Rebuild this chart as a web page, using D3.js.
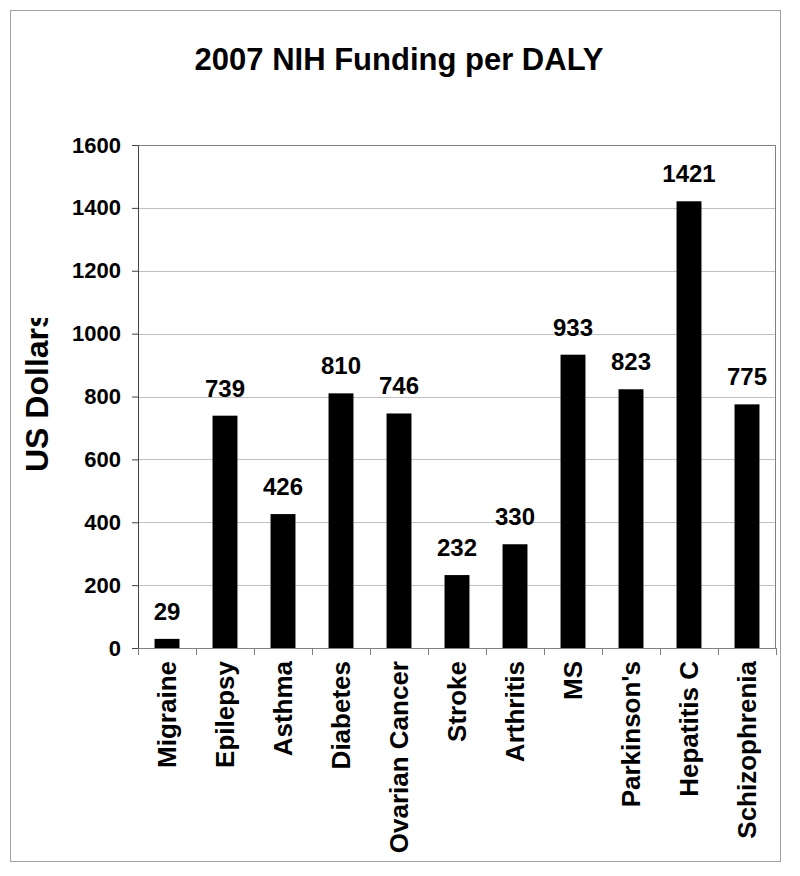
<!DOCTYPE html>
<html lang="en">
<head>
    <meta charset="UTF-8">
    <title>2007 NIH Funding per DALY</title>
    <script src="https://cdn.jsdelivr.net/npm/d3@7"></script>
    <style>
        body { margin: 0; background: #fff; }
        text { font-family: "Liberation Sans", Arial, sans-serif; font-weight: bold; }
    </style>
</head>
<body>
<svg width="800" height="876"></svg>
<script>
    // data
    var diseases = ["Migraine", "Epilepsy", "Asthma", "Diabetes", "Ovarian Cancer", "Stroke",
                    "Arthritis", "MS", "Parkinson's", "Hepatitis C", "Schizophrenia"];
    var funding = [29, 739, 426, 810, 746, 232, 330, 933, 823, 1421, 775];
    var yTicks = [0, 200, 400, 600, 800, 1000, 1200, 1400, 1600];

    var data = diseases.map(function(d, i){ return { name: d, value: funding[i] }; });

    var svg = d3.select('svg'),
        margin = {top: 145, left: 138, right: 24, bottom: 228},
        width = +svg.attr('width') - margin.left - margin.right,
        height = +svg.attr('height') - margin.top - margin.bottom;

    // outer frame
    svg.append('rect')
        .attr('x', 10.5).attr('y', 10.5)
        .attr('width', 770).attr('height', 851)
        .attr('fill', 'none')
        .attr('stroke', '#a0a0a0');

    // title
    svg.append('text')
        .attr('x', 399).attr('y', 70)
        .attr('text-anchor', 'middle')
        .attr('font-size', '31px')
        .text('2007 NIH Funding per DALY');

    var g = svg.append('g').attr('transform', 'translate(' + margin.left + ',' + margin.top + ')');

    /************ scales *************/
    var x = d3.scaleBand()
        .range([0, width])
        .paddingInner(0.57)
        .paddingOuter(0.285)
        .domain(diseases);
    var y = d3.scaleLinear()
        .range([height, 0])
        .domain([0, 1600]);

    // grid lines
    g.append('g')
        .selectAll('line')
        .data(yTicks.slice(1))
        .enter().append('line')
        .attr('x1', 0).attr('x2', width)
        .attr('y1', function(d){ return Math.round(y(d)) + 0.5; })
        .attr('y2', function(d){ return Math.round(y(d)) + 0.5; })
        .attr('stroke', '#c0c0c0');

    // plot frame (top and right)
    g.append('path')
        .attr('d', 'M0,0.5H' + (width - 0.5) + 'V' + height)
        .attr('fill', 'none')
        .attr('stroke', '#808080');

    // bars
    g.append('g')
        .selectAll('rect')
        .data(data)
        .enter().append('rect')
        .attr('x', function(d){ return x(d.name); })
        .attr('y', function(d){ return y(d.value); })
        .attr('width', x.bandwidth())
        .attr('height', function(d){ return height - y(d.value); })
        .attr('fill', '#000');

    // value labels
    g.append('g')
        .selectAll('text')
        .data(data)
        .enter().append('text')
        .attr('x', function(d){ return x(d.name) + x.bandwidth() / 2; })
        .attr('y', function(d){ return y(d.value) - 19; })
        .attr('text-anchor', 'middle')
        .attr('font-size', '24px')
        .text(function(d){ return d.value; });

    // y axis
    var yAxis = g.append('g')
        .call(d3.axisLeft(y).tickValues(yTicks).tickFormat(d3.format('d'))
            .tickSize(6).tickPadding(11).tickSizeOuter(0));
    yAxis.select('.domain').attr('stroke', '#404040');
    yAxis.selectAll('.tick line').attr('stroke', '#404040');
    yAxis.selectAll('text')
        .attr('font-size', '22px')
        .attr('font-family', '"Liberation Sans", Arial, sans-serif')
        .attr('fill', '#000');

    // x axis: ticks between categories
    var step = x.step();
    var xAxis = g.append('g').attr('transform', 'translate(0,' + height + ')');
    xAxis.append('line')
        .attr('x1', 0).attr('x2', width)
        .attr('y1', 0.5).attr('y2', 0.5)
        .attr('stroke', '#808080');
    xAxis.selectAll('.sep')
        .data(d3.range(diseases.length + 1))
        .enter().append('line')
        .attr('class', 'sep')
        .attr('x1', function(i){ return Math.round(i * step) + 0.5; })
        .attr('x2', function(i){ return Math.round(i * step) + 0.5; })
        .attr('y1', 0).attr('y2', 7)
        .attr('stroke', '#808080');
    xAxis.selectAll('.lbl')
        .data(diseases)
        .enter().append('text')
        .attr('class', 'lbl')
        .attr('transform', function(d){
            return 'translate(' + (x(d) + x.bandwidth() / 2) + ',13) rotate(-90)';
        })
        .attr('dy', '0.35em')
        .attr('text-anchor', 'end')
        .attr('font-size', '26px')
        .text(function(d){ return d; });

    // y axis title, clipped at the top like the original
    svg.append('clipPath').attr('id', 'ylabclip')
        .append('rect')
        .attr('x', 0).attr('y', 318).attr('width', 130).attr('height', 400);
    svg.append('g')
        .attr('clip-path', 'url(#ylabclip)')
        .append('text')
        .attr('transform', 'translate(48,472) rotate(-90)')
        .attr('text-anchor', 'start')
        .attr('font-size', '32px')
        .text('US Dollars');
</script>
</body>
</html>
